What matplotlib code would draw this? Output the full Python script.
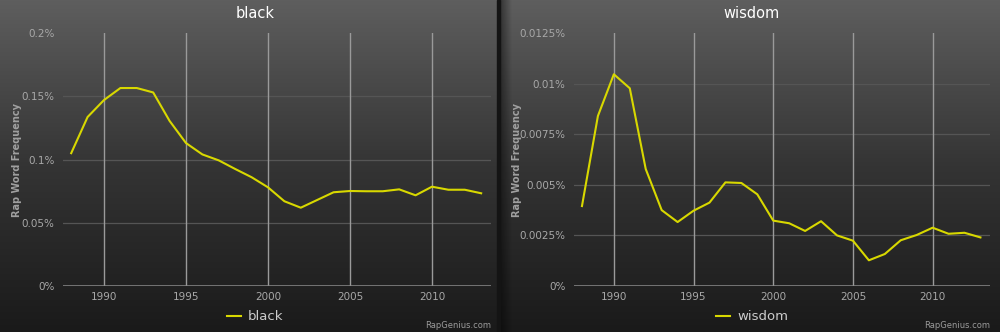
#!/usr/bin/env python3
"""Rap word frequency of 'black' and 'wisdom' over the years, RapGenius style."""

import numpy as np
from matplotlib import pyplot as plt
from matplotlib.colors import LinearSegmentedColormap

years = list(range(1988, 2014))

black = [0.105, 0.1336, 0.147, 0.1565, 0.1565, 0.153, 0.1305, 0.113, 0.104,
         0.0993, 0.0925, 0.086, 0.078, 0.067, 0.0619, 0.068, 0.0741, 0.0751,
         0.0749, 0.0749, 0.0764, 0.0717, 0.0785, 0.0761, 0.0761, 0.0733]

wisdom = [0.00395, 0.0084, 0.01046, 0.00977, 0.00578, 0.00375, 0.00316,
          0.00372, 0.00412, 0.00512, 0.00509, 0.00453, 0.00323, 0.0031,
          0.00272, 0.0032, 0.0025, 0.00224, 0.00127, 0.00158, 0.00226,
          0.00252, 0.00288, 0.00258, 0.00263, 0.0024]

black_yticks = [0, 0.05, 0.1, 0.15, 0.2]
wisdom_yticks = [0, 0.0025, 0.005, 0.0075, 0.01, 0.0125]
xticks = [1990, 1995, 2000, 2005, 2010]

W, H = 1000, 332
fig = plt.figure(figsize=(W / 100, H / 100), dpi=100)

# background panels
bg = fig.add_axes([0, 0, 1, 1])
grad = np.linspace(0, 1, 256).reshape(-1, 1)
cmap = LinearSegmentedColormap.from_list('bg', ['#5e5e5e', '#343434', '#1a1a1a'])
bg.imshow(grad, extent=(0, 498, H, 0), cmap=cmap, aspect='auto')
bg.imshow(grad, extent=(500, W, H, 0), cmap=cmap, aspect='auto')
bg.axvspan(497, 500, color='#141414')
shadow = np.zeros((1, 64, 4))
shadow[0, :, 3] = np.linspace(0.45, 0, 64)
bg.imshow(shadow, extent=(500, 512, H, 0), aspect='auto')
bg.set_xlim(0, W)
bg.set_ylim(H, 0)
bg.axis('off')


def panel(left, right, values, yticks, word, cx, label_x):
    ax = fig.add_axes([left / W, 1 - 286 / H, (right - left) / W, 253 / H])
    ax.patch.set_alpha(0)
    for y in yticks[1:]:
        ax.axhline(y, color='#555555', lw=0.9, zorder=1)
    for x in xticks:
        ax.axvline(x, color='#9a9a9a', lw=1.0, zorder=1)
    ax.axhline(0, color='#8c8c8c', lw=1.8, zorder=2)
    line, = ax.plot(years, values, color='#d8d800', lw=1.5, zorder=3)
    ax.set_xlim(1987.5, 2013.6)
    ax.set_ylim(0, yticks[-1])
    ax.set_xticks(xticks)
    ax.set_yticks(yticks)
    ax.set_yticklabels(['{:g}%'.format(round(v, 6)) for v in yticks])
    ax.tick_params(length=0, colors='#a8a8a8', labelsize=7.5)
    ax.tick_params(axis='y', pad=6)
    ax.tick_params(axis='x', pad=4)
    for s in ax.spines.values():
        s.set_visible(False)
    fig.text(cx / W, 1 - 13 / H, word, color='white', fontsize=10.5,
             ha='center', va='center')
    fig.text(label_x / W, 1 - 160 / H, 'Rap Word Frequency', color='#a0a0a0',
             fontsize=7, fontweight='bold', rotation=90, ha='center', va='center')
    fig.text(right / W, 1 - 325 / H, 'RapGenius.com', color='#9a9a9a',
             fontsize=6, ha='right', va='center')
    fig.legend([line], [word], loc='center', bbox_to_anchor=(cx / W, 1 - 317 / H),
               frameon=False, labelcolor='#cccccc', fontsize=9.5, handlelength=1.1,
               handletextpad=0.5)
    return ax


panel(63, 491, black, black_yticks, 'black', 255, 17)
panel(574, 990, wisdom, wisdom_yticks, 'wisdom', 752, 517)

fig.savefig('out.png', dpi=100)
